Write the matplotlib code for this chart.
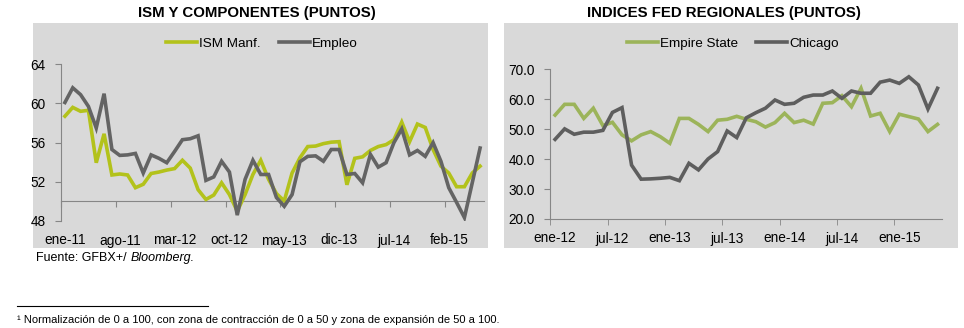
import matplotlib
matplotlib.use("Agg")
import matplotlib.pyplot as plt
from matplotlib.patches import Rectangle
from matplotlib.lines import Line2D

plt.rcParams['font.family'] = ['Liberation Sans', 'DejaVu Sans']

# ---------------- data ----------------
left_labels = ['ene-11', 'ago-11', 'mar-12', 'oct-12', 'may-13', 'dic-13', 'jul-14', 'feb-15']
ism_manf = [58.7, 59.6, 59.2, 59.3, 53.95, 56.9, 52.7, 52.8, 52.7, 51.4,
            51.75, 52.85, 53.0, 53.2, 53.35, 54.2, 53.4, 51.2, 50.2, 50.65,
            51.9, 50.7, 49.0, 50.7, 52.75, 54.2, 52.25, 50.8, 50.05, 52.9,
            54.45, 55.6, 55.65, 55.9, 56.05, 56.1, 51.7, 54.4, 54.55, 55.2,
            55.6, 55.8, 56.3, 58.1, 56.1, 57.9, 57.55, 55.3, 53.6, 52.9,
            51.5, 51.5, 52.9, 53.6]
empleo = [60.1, 61.6, 60.9, 59.7, 57.5, 61.0, 55.3, 54.7, 54.75, 54.9,
          52.9, 54.75, 54.4, 53.95, 55.1, 56.3, 56.4, 56.7, 52.15, 52.5,
          54.1, 53.0, 48.6, 52.25, 54.2, 52.75, 52.75, 50.4, 49.5, 50.7,
          54.05, 54.6, 54.65, 54.1, 55.3, 55.3, 52.75, 52.85, 51.9, 54.8,
          53.5, 53.95, 56.0, 57.4, 54.75, 55.2, 54.6, 56.0, 54.1, 51.4,
          49.9, 48.35, 51.9, 55.45]

right_labels = ['ene-12', 'jul-12', 'ene-13', 'jul-13', 'ene-14', 'jul-14', 'ene-15']
empire_state = [54.7, 58.3, 58.3, 53.6, 57.0, 51.2, 52.3, 48.1, 46.1, 48.1,
                49.2, 47.5, 45.3, 53.6, 53.6, 51.6, 49.2, 53.0, 53.3, 54.3,
                53.3, 52.5, 50.7, 52.2, 55.3, 52.2, 53.0, 51.7, 58.65, 58.85,
                61.2, 57.5, 63.65, 54.4, 55.3, 49.2, 55.0, 54.2, 53.4, 49.2,
                51.6]
chicago = [46.6, 50.1, 48.3, 49.0, 49.0, 49.6, 55.6, 57.2, 38.0, 33.3,
           33.4, 33.6, 33.9, 32.8, 38.6, 36.4, 40.05, 42.5, 49.4, 47.2,
           53.8, 55.5, 57.0, 59.75, 58.3, 58.65, 60.65, 61.4, 61.4, 62.75,
           60.3, 62.75, 62.0, 62.0, 65.7, 66.4, 65.3, 67.5, 64.75, 56.75,
           63.65]

# ---------------- styles ----------------
BG = '#D9D9D9'
AX = '#868686'
C_ISM = '#B3C21B'
C_EMP = '#646464'
C_EMPIRE = '#9CB45A'
C_CHI = '#5E5E5E'
LW = 2.6
TICK_FS = 9.8
LEG_FS = 9.7
W, H = 964, 328

fig = plt.figure(figsize=(W / 100, H / 100), dpi=100)
fig.patch.set_facecolor('white')

def fx(px):
    return px / W

def fy(py):
    return 1 - py / H

# grey panels
fig.add_artist(Rectangle((fx(33), fy(248)), fx(488) - fx(33), fy(23) - fy(248),
                         transform=fig.transFigure, facecolor=BG, edgecolor='none', zorder=0))
fig.add_artist(Rectangle((fx(504), fy(248)), fx(958) - fx(504), fy(23) - fy(248),
                         transform=fig.transFigure, facecolor=BG, edgecolor='none', zorder=0))

# titles
fig.text(fx(257), fy(13), 'ISM Y COMPONENTES (PUNTOS)', ha='center', va='center',
         fontsize=10.8, fontweight='bold')
fig.text(fx(724), fy(13), 'INDICES FED REGIONALES (PUNTOS)', ha='center', va='center',
         fontsize=10.8, fontweight='bold')

# ---------------- left chart ----------------
axL = fig.add_axes([fx(61), fy(221), fx(484) - fx(61), fy(64.3) - fy(221)])
axL.set_facecolor('none')
nL = len(ism_manf)
xL = list(range(nL))
axL.plot(xL, ism_manf, color=C_ISM, lw=LW, label='ISM Manf.', solid_joinstyle='miter', zorder=3)
axL.plot(xL, empleo, color=C_EMP, lw=LW, label='Empleo', solid_joinstyle='miter', zorder=4)
axL.set_xlim(-0.5, nL - 0.5)
axL.set_ylim(48, 64)
axL.set_yticks([48, 52, 56, 60, 64])
for s in ['top', 'right', 'bottom']:
    axL.spines[s].set_visible(False)
axL.spines['left'].set_color(AX)
axL.tick_params(axis='y', direction='out', length=4, color=AX, pad=7, labelsize=TICK_FS)
axL.set_xticks([7 * k for k in range(len(left_labels))])
axL.set_xticklabels(left_labels)
axL.tick_params(axis='x', length=0, pad=9, labelsize=TICK_FS)
# axis crossing at 50
secL = axL.secondary_xaxis((50 - 48) / (64 - 48))
secL.set_xticks([-0.5 + 7 * k for k in range(len(left_labels))])
secL.set_xticklabels([])
secL.tick_params(axis='x', direction='out', length=4, color=AX)
secL.spines['bottom'].set_color(AX)

axL.legend(loc='center', bbox_to_anchor=(fx(262), fy(44)), bbox_transform=fig.transFigure,
           ncol=2, frameon=False, fontsize=LEG_FS, handlelength=2.3, handletextpad=0.15,
           columnspacing=1.3)

# ---------------- right chart ----------------
axR = fig.add_axes([fx(550.3), fy(219), fx(942.3) - fx(550.3), fy(69.3) - fy(219)])
axR.set_facecolor('none')
nR = len(chicago)
xR = list(range(nR))
axR.plot(xR, empire_state, color=C_EMPIRE, lw=LW, label='Empire State', solid_joinstyle='miter', zorder=3)
axR.plot(xR, chicago, color=C_CHI, lw=LW, label='Chicago', solid_joinstyle='miter', zorder=4)
axR.set_xlim(-0.5, nR - 0.5)
axR.set_ylim(20, 70)
axR.set_yticks([20, 30, 40, 50, 60, 70])
axR.set_yticklabels([f'{v:.1f}' for v in [20, 30, 40, 50, 60, 70]])
for s in ['top', 'right']:
    axR.spines[s].set_visible(False)
axR.spines['left'].set_color(AX)
axR.spines['bottom'].set_color(AX)
axR.tick_params(axis='y', direction='out', length=4, color=AX, pad=7, labelsize=TICK_FS)
axR.set_xticks([6 * k for k in range(len(right_labels))])
axR.set_xticklabels(right_labels)
axR.set_xticks([-0.5 + 6 * k for k in range(len(right_labels))], minor=True)
axR.tick_params(axis='x', which='major', length=0, pad=9, labelsize=TICK_FS)
axR.tick_params(axis='x', which='minor', direction='out', length=4, color=AX)

axR.legend(loc='center', bbox_to_anchor=(fx(733), fy(44)), bbox_transform=fig.transFigure,
           ncol=2, frameon=False, fontsize=LEG_FS, handlelength=2.3, handletextpad=0.15,
           columnspacing=1.3)

# ---------------- footer ----------------
t1 = fig.text(fx(36), fy(258), 'Fuente: GFBX+/ ', fontsize=9, ha='left', va='center')
axL.annotate('Bloomberg.', xy=(1, 0.5), xycoords=t1, va='center', ha='left',
             fontsize=9, style='italic', annotation_clip=False)

fig.add_artist(Line2D([fx(17), fx(208)], [fy(305.7), fy(305.7)], transform=fig.transFigure,
                      color='black', lw=0.8))
fig.text(fx(17), fy(320), '¹ Normalización de 0 a 100, con zona de contracción de 0 a 50 y zona de expansión de 50 a 100.',
         fontsize=8, ha='left', va='center')

fig.savefig('out.png', dpi=100, facecolor='white')
